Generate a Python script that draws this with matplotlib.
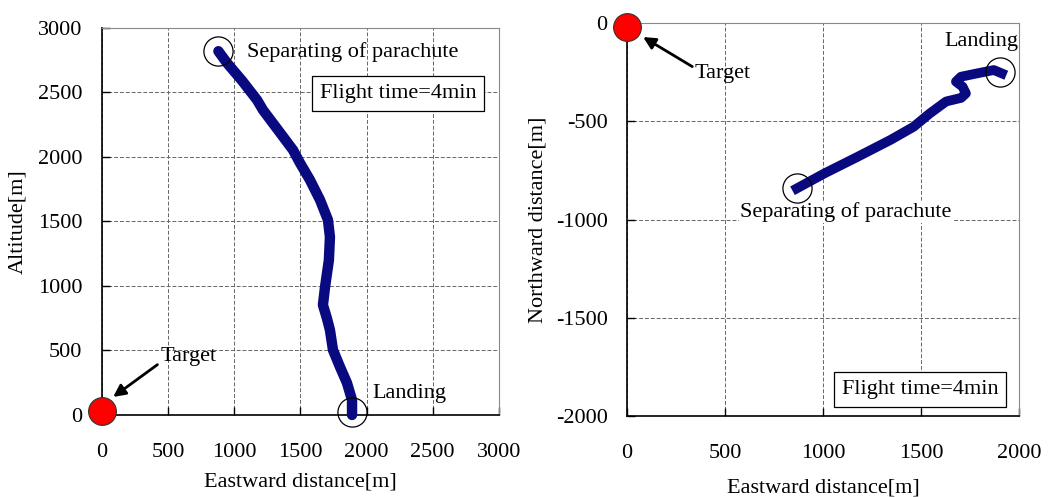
import matplotlib
matplotlib.use("Agg")
import matplotlib.pyplot as plt

# ---- data -----------------------------------------------------------
# side view: eastward distance vs altitude
side_east = [880, 945, 1060, 1172, 1217, 1330, 1444, 1497, 1572, 1648, 1708, 1723, 1715, 1686, 1670, 1700, 1723, 1746, 1800, 1852, 1890, 1890]
side_alt = [2820, 2729, 2590, 2442, 2364, 2210, 2054, 1953, 1822, 1667, 1512, 1380, 1200, 992, 853, 750, 659, 504, 370, 248, 116, 0]

# top view: eastward vs northward distance
top_east = [866, 1008, 1176, 1344, 1462, 1546, 1628, 1704, 1729, 1712, 1678, 1704, 1786, 1871, 1912]
top_north = [-841, -764, -680, -594, -527, -458, -398, -380, -357, -323, -297, -272, -255, -238, -255]

target = (0, 0)
flight_label = "Flight time=4min"

line_color = "#0a0a80"
plt.rcParams["font.family"] = ["Liberation Serif", "DejaVu Serif"]
plt.rcParams["font.size"] = 16
plt.rcParams["axes.unicode_minus"] = False

fig = plt.figure(figsize=(10.51, 4.97), dpi=100)
ax1 = fig.add_axes([0.0970, 0.1650, 0.3777, 0.7787])
ax2 = fig.add_axes([0.5966, 0.1630, 0.3730, 0.7901])


def style(ax):
    ax.grid(True, linestyle=(0, (4, 2)), color="#666666", linewidth=0.7)
    ax.set_axisbelow(True)
    for s in ("top", "right"):
        ax.spines[s].set_color("#888888")
    for s in ("left", "bottom"):
        ax.spines[s].set_color("black")
        ax.spines[s].set_linewidth(1.2)
    ax.tick_params(direction="in", length=6, width=1.0, top=False, right=False)
    ax.tick_params(axis="x", pad=20)
    ax.tick_params(axis="y", pad=14)


# ---- left: altitude profile -----------------------------------------
style(ax1)
ax1.set_xlim(0, 3000)
ax1.set_ylim(0, 3000)
ax1.set_xticks(range(0, 3001, 500))
ax1.set_yticks(range(0, 3001, 500))
ax1.plot(side_east, side_alt, color=line_color, lw=7.5, solid_capstyle="round",
         solid_joinstyle="round", clip_on=False, zorder=3)
ax1.plot(side_east[0], side_alt[0], "o", ms=21, mfc="none", mec="black", mew=0.9, clip_on=False, zorder=4)
ax1.plot(side_east[-1], side_alt[-1] + 20, "o", ms=21, mfc="none", mec="black", mew=0.9, clip_on=False, zorder=4)
ax1.plot(target[0], target[1] + 30, "o", ms=20, mfc="red", mec="#333333", mew=0.8, clip_on=False, zorder=5)
ax1.annotate("Target", xy=(85, 140), xytext=(440, 450), va="center", ha="left",
             arrowprops=dict(arrowstyle="-|>", color="black", lw=2, mutation_scale=18,
                             shrinkA=0, shrinkB=0, relpos=(0, 0.2)))
ax1.text(1096, 2814, "Separating of parachute", va="center", ha="left")
ax1.text(2041, 163, "Landing", va="center", ha="left")
ax1.text(2237, 2490, flight_label, va="center", ha="center",
         bbox=dict(boxstyle="square,pad=0.35", fc="white", ec="black", lw=0.9))
ax1.set_xlabel("Eastward distance[m]", labelpad=8)
ax1.set_ylabel("Altitude[m]", labelpad=8)

# ---- right: ground track --------------------------------------------
style(ax2)
ax2.set_xlim(0, 2000)
ax2.set_ylim(-2000, 0)
ax2.set_xticks(range(0, 2001, 500))
ax2.set_yticks(range(-2000, 1, 500))
ax2.plot(top_east, top_north, color=line_color, lw=7, solid_joinstyle="round",
         solid_capstyle="projecting", zorder=3)
ax2.plot(top_east[0], top_north[0], "o", ms=21, mfc="none", mec="black", mew=0.9, zorder=4)
ax2.plot(1904, -246, "o", ms=21, mfc="none", mec="black", mew=0.9, zorder=4)
ax2.plot(target[0], target[1] - 20, "o", ms=20, mfc="red", mec="#333333", mew=0.8, clip_on=False, zorder=5)
ax2.annotate("Target", xy=(82, -70), xytext=(347, -258), va="center", ha="left",
             arrowprops=dict(arrowstyle="-|>", color="black", lw=2, mutation_scale=18,
                             shrinkA=0, shrinkB=0, relpos=(0, 0.8)))
ax2.text(577, -962, "Separating of parachute", va="center", ha="left",
         bbox=dict(fc="white", ec="none", pad=1))
ax2.text(1617, -95, "Landing", va="center", ha="left")
ax2.text(1495, -1864, flight_label, va="center", ha="center",
         bbox=dict(boxstyle="square,pad=0.35", fc="white", ec="black", lw=0.9))
ax2.set_xlabel("Eastward distance[m]", labelpad=11)
ax2.set_ylabel("Northward distance[m]", labelpad=6)

fig.savefig("out.png", dpi=100)
